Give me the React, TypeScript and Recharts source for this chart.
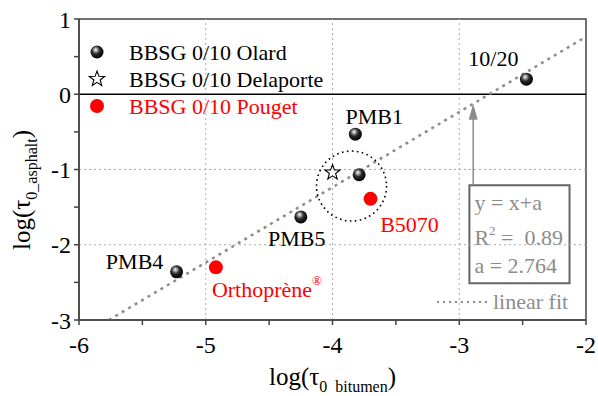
import React from 'react';
import {
  ScatterChart,
  Scatter,
  XAxis,
  YAxis,
  ReferenceLine,
  ReferenceArea,
  ReferenceDot,
} from 'recharts';

// axes
const xTicks = [-6, -5.5, -5, -4.5, -4, -3.5, -3, -2.5, -2];
const yTicks = [-3, -2.5, -2, -1.5, -1, -0.5, 0, 0.5, 1];
const gridX = [-5, -4, -3];
const gridY = [-1, -2];

// BBSG 0/10 Olard
const olardNames = ['10/20', 'PMB1', '', 'PMB5', 'PMB4'];
const olardX = [-2.47, -3.82, -3.79, -4.25, -5.23];
const olardY = [0.2, -0.53, -1.07, -1.63, -2.36];

// BBSG 0/10 Delaporte
const delaporteX = [-4.0];
const delaporteY = [-1.04];

// BBSG 0/10 Pouget
const pougetNames = ['B5070', 'Orthoprène'];
const pougetX = [-3.7, -4.92];
const pougetY = [-1.39, -2.3];

// linear fit y = x + a
const fitA = 2.764;
const fitR2 = 0.89;
const fitXStart = -3 - fitA;
const fitXEnd = -2;

// annotations
const circleX = -3.85;
const circleY = -1.22;
const arrowX = -2.89;
const boxX = [-2.92, -2.13];
const boxY = [-2.51, -1.21];

const FONT = "'Liberation Serif', 'Times New Roman', serif";
const GRAY = '#8c8c8c';

const olardData = olardX.map((x, i) => ({ x, y: olardY[i], name: olardNames[i] }));
const delaporteData = delaporteX.map((x, i) => ({ x, y: delaporteY[i] }));
const pougetData = pougetX.map((x, i) => ({ x, y: pougetY[i], name: pougetNames[i] }));

const fmt = (v: number) => (Number.isInteger(v) ? String(v) : '');

const SphereGradient = ({ id }: { id: string }) => (
  <radialGradient id={id} cx="0.42" cy="0.38" r="0.62" fx="0.4" fy="0.32">
    <stop offset="0" stopColor="#ffffff" />
    <stop offset="0.18" stopColor="#b0b0b0" />
    <stop offset="0.5" stopColor="#2a2a2a" />
    <stop offset="1" stopColor="#000000" />
  </radialGradient>
);

const Sphere = (p: any) => <circle cx={p.cx} cy={p.cy} r={6.5} fill="url(#sphere)" />;
const RedDot = (p: any) => <circle cx={p.cx} cy={p.cy} r={7} fill="#ff0000" />;

const starPath = (cx: number, cy: number, ro: number, ri: number) => {
  let d = '';
  for (let i = 0; i < 10; i++) {
    const r = i % 2 === 0 ? ro : ri;
    const a = -Math.PI / 2 + (i * Math.PI) / 5;
    d += (i === 0 ? 'M' : 'L') + (cx + r * Math.cos(a)).toFixed(2) + ',' + (cy + r * Math.sin(a)).toFixed(2);
  }
  return d + 'Z';
};
const Star = (p: any) => (
  <path d={starPath(p.cx, p.cy, 8, 3.3)} fill="#fff" stroke="#000" strokeWidth={1.1} />
);

// text label next to a point
const note = (text: string, dx: number, dy: number, color: string, anchor = 'middle', sup = '') => (props: any) => {
  const vb = props.viewBox;
  const x = vb.x + vb.width / 2 + dx;
  const y = vb.y + vb.height / 2 + dy;
  return (
    <text x={x} y={y} textAnchor={anchor} fill={color} fontSize={22} fontFamily={FONT} dominantBaseline="central">
      {text}
      {sup && (
        <tspan fontSize={13} dy={-9}>
          {sup}
        </tspan>
      )}
    </text>
  );
};

const XLabel = (props: any) => {
  const vb = props.viewBox;
  return (
    <text x={vb.x + vb.width / 2} y={385} textAnchor="middle" fontSize={25} fontFamily={FONT} fill="#000">
      log(τ
      <tspan fontSize={16} dy={7}>
        {'0\u00a0\u00a0bitumen'}
      </tspan>
      <tspan dy={-7}>)</tspan>
    </text>
  );
};

const YLabel = () => (
  <text
    x={0}
    y={0}
    transform="translate(30,190) rotate(-90)"
    textAnchor="middle"
    fontSize={25}
    fontFamily={FONT}
    fill="#000"
  >
    log(τ
    <tspan fontSize={16} dy={7}>
      0_asphalt
    </tspan>
    <tspan dy={-7}>)</tspan>
  </text>
);

const BoxText = (props: any) => {
  const vb = props.viewBox;
  const x = vb.x + 5;
  return (
    <text fontSize={22} fontFamily={FONT} fill={GRAY}>
      <tspan x={x} y={vb.y + 25}>y = x+a</tspan>
      <tspan x={x} y={vb.y + 60}>R</tspan>
      <tspan fontSize={13} dy={-10}>2</tspan>
      <tspan dy={10}>{'\u00a0=\u00a0\u00a0' + fitR2.toFixed(2)}</tspan>
      <tspan x={x} y={vb.y + 88}>{'a = ' + fitA}</tspan>
    </text>
  );
};

const ArrowHead = (p: any) => (
  <path d={`M${p.cx},${p.cy} L${p.cx - 4.5},${p.cy + 16} L${p.cx + 4.5},${p.cy + 16} Z`} fill={GRAY} />
);

const legendItems = [
  { label: 'BBSG 0/10 Olard', color: '#000', icon: 'sphere' },
  { label: 'BBSG 0/10 Delaporte', color: '#000', icon: 'star' },
  { label: 'BBSG 0/10 Pouget', color: '#ff0000', icon: 'red' },
];

const LegendIcon = ({ icon }: { icon: string }) => (
  <svg width={22} height={22} style={{ display: 'block' }}>
    <defs>
      <SphereGradient id="sphereLegend" />
    </defs>
    {icon === 'sphere' && <circle cx={11} cy={11} r={6.5} fill="url(#sphereLegend)" />}
    {icon === 'star' && <path d={starPath(11, 11, 8, 3.3)} fill="#fff" stroke="#000" strokeWidth={1.1} />}
    {icon === 'red' && <circle cx={11} cy={11} r={7} fill="#ff0000" />}
  </svg>
);

export default function App() {
  return (
    <div style={{ position: 'relative', width: 598, height: 396, fontFamily: FONT, background: '#fff' }}>
      <style>{'body{margin:0}'}</style>
      <ScatterChart width={598} height={396} margin={{ top: 19, right: 12, bottom: 0, left: 0 }}>
        <defs>
          <SphereGradient id="sphere" />
        </defs>
        <XAxis
          type="number"
          dataKey="x"
          domain={[-6, -2]}
          ticks={xTicks}
          interval={0}
          height={76}
          tickSize={5}
          tickMargin={11}
          tickFormatter={fmt}
          stroke="#444"
          strokeWidth={1.5}
          tick={{ fontSize: 24, fill: '#000', fontFamily: FONT }}
          allowDataOverflow
          label={{ content: XLabel }}
        />
        <YAxis
          type="number"
          dataKey="y"
          domain={[-3, 1]}
          ticks={yTicks}
          interval={0}
          width={79}
          tickSize={5}
          tickMargin={3}
          tickFormatter={fmt}
          stroke="#444"
          strokeWidth={1.5}
          tick={{ fontSize: 24, fill: '#000', fontFamily: FONT }}
          allowDataOverflow
          label={{ content: YLabel }}
        />
        {gridX.map((v) => (
          <ReferenceLine key={'gx' + v} x={v} stroke="#aaa" strokeDasharray="2 3" strokeWidth={1} />
        ))}
        {gridY.map((v) => (
          <ReferenceLine key={'gy' + v} y={v} stroke="#aaa" strokeDasharray="2 3" strokeWidth={1} />
        ))}
        <ReferenceLine y={0} stroke="#000" strokeWidth={1.5} />
        <ReferenceArea x1={-6} x2={-2} y1={-3} y2={1} fill="none" stroke="#444" strokeWidth={1.5} />
        <ReferenceLine
          segment={[
            { x: fitXStart, y: fitXStart + fitA },
            { x: fitXEnd, y: fitXEnd + fitA },
          ]}
          stroke={GRAY}
          strokeWidth={2.5}
          strokeDasharray="3 4.5"
        />
        <ReferenceDot
          x={circleX}
          y={circleY}
          r={35}
          fill="none"
          stroke="#000"
          strokeWidth={1.6}
          strokeDasharray="1.6 3.4"
        />
        <ReferenceArea
          x1={boxX[0]}
          x2={boxX[1]}
          y1={boxY[0]}
          y2={boxY[1]}
          fill="#fff"
          fillOpacity={1}
          stroke="#666"
          strokeWidth={2}
          label={{ content: BoxText }}
        />
        <ReferenceLine
          segment={[
            { x: arrowX, y: boxY[1] },
            { x: arrowX, y: arrowX + fitA - 0.15 },
          ]}
          stroke={GRAY}
          strokeWidth={1.5}
        />
        <ReferenceDot x={arrowX} y={arrowX + fitA} shape={ArrowHead} />

        <Scatter data={olardData} shape={Sphere} isAnimationActive={false} />
        <Scatter data={delaporteData} shape={Star} isAnimationActive={false} />
        <Scatter data={pougetData} shape={RedDot} isAnimationActive={false} />

        <ReferenceDot x={olardX[0]} y={olardY[0]} r={0} label={{ content: note(olardNames[0], -33, -21, '#000') }} />
        <ReferenceDot x={olardX[1]} y={olardY[1]} r={0} label={{ content: note(olardNames[1], 19, -18, '#000') }} />
        <ReferenceDot x={olardX[3]} y={olardY[3]} r={0} label={{ content: note(olardNames[3], -4, 22, '#000') }} />
        <ReferenceDot x={olardX[4]} y={olardY[4]} r={0} label={{ content: note(olardNames[4], -42, -10, '#000') }} />
        <ReferenceDot x={pougetX[0]} y={pougetY[0]} r={0} label={{ content: note(pougetNames[0], 39, 26, '#ff0000') }} />
        <ReferenceDot
          x={pougetX[1]}
          y={pougetY[1]}
          r={0}
          label={{ content: note(pougetNames[1], -4, 22, '#ff0000', 'start', '®') }}
        />
      </ScatterChart>

      <div style={{ position: 'absolute', left: 86, top: 38.5 }}>
        {legendItems.map((it) => (
          <div key={it.label} style={{ display: 'flex', alignItems: 'center', height: 27 }}>
            <LegendIcon icon={it.icon} />
            <span style={{ marginLeft: 21, fontSize: 22, lineHeight: '27px', color: it.color, whiteSpace: 'nowrap' }}>
              {it.label}
            </span>
          </div>
        ))}
      </div>

      <div style={{ position: 'absolute', left: 436, top: 288, display: 'flex', alignItems: 'center', height: 28 }}>
        <svg width={54} height={6} style={{ display: 'block' }}>
          <line x1={1} y1={3} x2={52} y2={3} stroke={GRAY} strokeWidth={2} strokeDasharray="2 4" />
        </svg>
        <span style={{ marginLeft: 3, fontSize: 22, lineHeight: '28px', color: GRAY, whiteSpace: 'nowrap' }}>
          linear fit
        </span>
      </div>
    </div>
  );
}
